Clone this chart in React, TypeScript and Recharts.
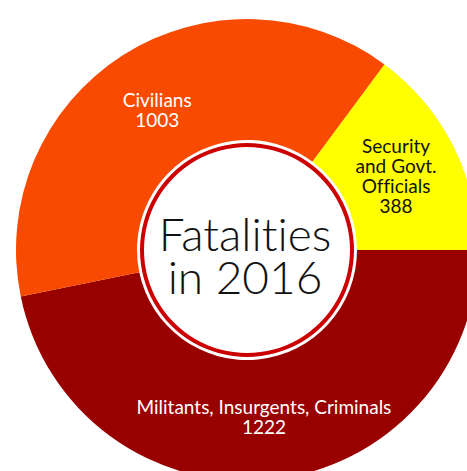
import React from 'react';
import { PieChart, Pie, Cell } from 'recharts';

const categories = ['Militants, Insurgents, Criminals', 'Civilians', 'Security and Govt. Officials'];
const fatalities = [1222, 1003, 388];
const labelLines = [
  ['Militants, Insurgents, Criminals'],
  ['Civilians'],
  ['Security', 'and Govt.', 'Officials'],
];
const sliceColors = ['#990000', '#F84A00', '#FFFF00'];
const labelColors = ['#ffffff', '#ffffff', '#111111'];
const centerTitle = ['Fatalities', 'in 2016'];

const data = categories.map((name, i) => ({ name, value: fatalities[i], idx: i }));
const ring = [{ name: 'ring', value: 1 }];

const FONT = 'Lato, "Open Sans", sans-serif';
const RAD = Math.PI / 180;
const noLiga = { fontVariantLigatures: 'none' as const };

const renderLabel = (props: any) => {
  const { cx, cy, midAngle, innerRadius, outerRadius, payload } = props;
  const idx = payload.idx;
  const r = innerRadius + (outerRadius - innerRadius) * 0.47;
  const x = cx + r * Math.cos(-midAngle * RAD);
  const y = cy + r * Math.sin(-midAngle * RAD);
  const lines = [...labelLines[idx], String(payload.value)];
  const lh = 19.8;
  const top = y - ((lines.length - 1) * lh) / 2;
  return (
    <text
      x={x}
      y={top}
      fill={labelColors[idx]}
      textAnchor="middle"
      dominantBaseline="central"
      fontFamily={FONT}
      fontSize={19}
      style={noLiga}
    >
      {lines.map((l, i) => (
        <tspan key={i} x={x} y={top + i * lh}>
          {l}
        </tspan>
      ))}
    </text>
  );
};

const renderCenter = (props: any) => {
  const { cx, cy } = props;
  return (
    <g>
      <text x={cx - 2} y={cy + 1} textAnchor="middle" fontFamily={FONT} fontSize={46} fontWeight={300} fill="#111" style={noLiga}>
        {centerTitle[0]}
      </text>
      <text x={cx - 2} y={cy + 44} textAnchor="middle" fontFamily={FONT} fontSize={46} fontWeight={300} fill="#111" style={noLiga}>
        {centerTitle[1]}
      </text>
    </g>
  );
};

export default function App() {
  return (
    <div style={{ position: 'absolute', left: 0, top: 0, background: '#fff' }}>
      <PieChart width={467} height={471}>
        <Pie
          data={data}
          dataKey="value"
          nameKey="name"
          cx={242}
          cy={245}
          innerRadius={110}
          outerRadius={231}
          startAngle={0}
          endAngle={-360}
          stroke="none"
          label={renderLabel}
          labelLine={false}
          isAnimationActive={false}
        >
          {data.map((d, i) => (
            <Cell key={d.name} fill={sliceColors[i]} />
          ))}
        </Pie>
        <Pie
          data={ring}
          dataKey="value"
          cx={242}
          cy={245}
          innerRadius={103}
          outerRadius={107}
          startAngle={90}
          endAngle={-270}
          stroke="none"
          fill="#CC0000"
          label={renderCenter}
          labelLine={false}
          isAnimationActive={false}
        />
      </PieChart>
    </div>
  );
}
